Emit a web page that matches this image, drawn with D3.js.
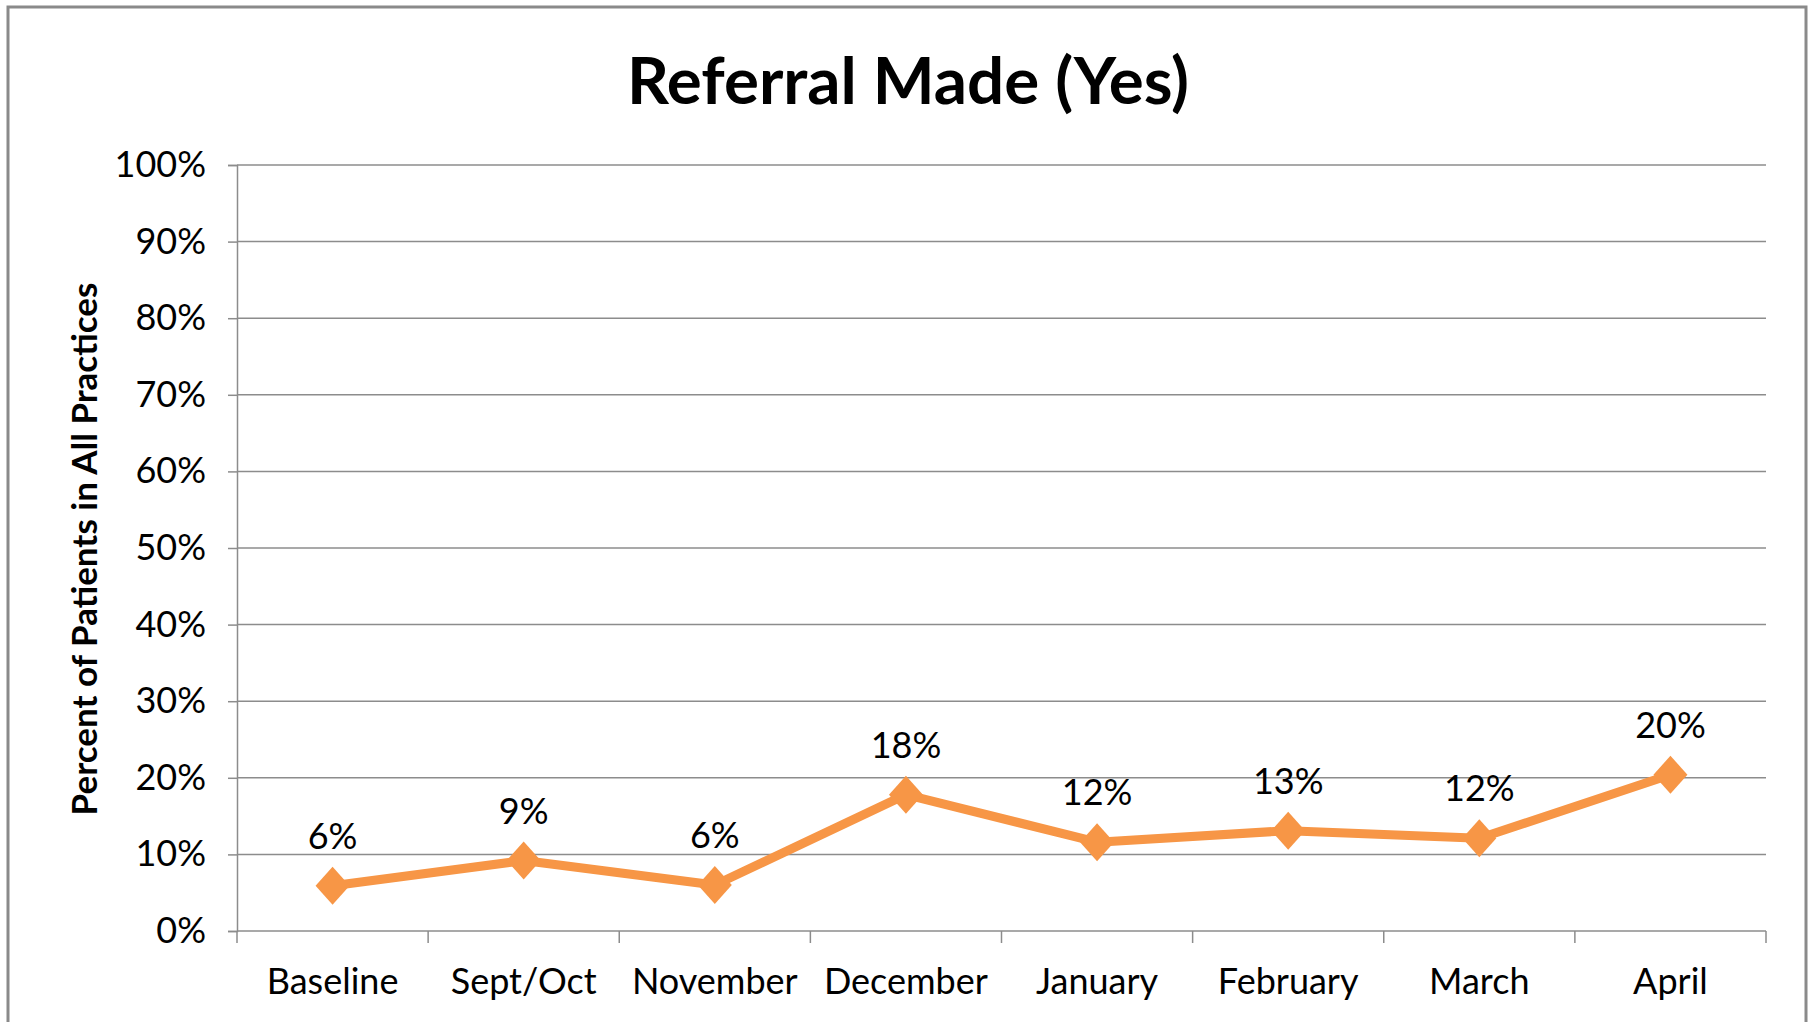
<!DOCTYPE html>
<html>
<head>
<meta charset="utf-8">
<script src="https://cdn.jsdelivr.net/npm/d3@7"></script>
<style>
  html, body { margin: 0; padding: 0; background: #fff; overflow: hidden; }
  text { font-family: Lato, "Open Sans", sans-serif; fill: #000; }
</style>
</head>
<body>
<div id="chart"></div>
<script>
// chart data
const categories = ["Baseline", "Sept/Oct", "November", "December", "January", "February", "March", "April"];
const values = [5.9, 9.2, 6.0, 17.8, 11.6, 13.1, 12.1, 20.4];
const valueLabels = ["6%", "9%", "6%", "18%", "12%", "13%", "12%", "20%"];
const yTicks = [0, 10, 20, 30, 40, 50, 60, 70, 80, 90, 100];

const W = 1812, H = 1022;
const margin = { top: 165, right: 46, bottom: 91, left: 237 };
const width = W - margin.left - margin.right;
const height = H - margin.top - margin.bottom;

const lineColor = "#f79646";
const gridColor = "#8c8c8c";

const svg = d3.select("#chart")
  .append("svg")
  .attr("width", W)
  .attr("height", H);

// outer frame (bottom edge runs off the picture)
svg.append("rect")
  .attr("x", 8)
  .attr("y", 7)
  .attr("width", 1798)
  .attr("height", H + 20)
  .attr("fill", "#fff")
  .attr("stroke", "#8a8a8a")
  .attr("stroke-width", 3);

svg.append("text")
  .attr("x", 908)
  .attr("y", 78)
  .attr("text-anchor", "middle")
  .attr("dominant-baseline", "central")
  .style("font-size", "65.5px")
  .style("font-weight", "bold")
  .text("Referral Made (Yes)");

const g = svg.append("g")
  .attr("transform", `translate(${margin.left},${margin.top})`);

const x = d3.scaleBand().domain(categories).range([0, width]);
const y = d3.scaleLinear().domain([0, 100]).range([height, 0]);

// y axis with ticks poking left of the axis
const yAxis = g.append("g")
  .call(d3.axisLeft(y)
    .tickValues(yTicks)
    .tickSize(9)
    .tickPadding(22)
    .tickFormat(function(d) { return d + "%"; }));
yAxis.select(".domain").attr("stroke", gridColor).attr("stroke-width", 1.5);
yAxis.selectAll(".tick line").attr("stroke", gridColor).attr("stroke-width", 1.5);
yAxis.selectAll(".tick text")
  .style("font-size", "36px")
  .attr("fill", "#000");

// horizontal gridlines
g.append("g")
  .selectAll("line")
  .data(yTicks.filter(function(d) { return d > 0; }))
  .join("line")
  .attr("x1", 0)
  .attr("x2", width)
  .attr("y1", function(d) { return y(d); })
  .attr("y2", function(d) { return y(d); })
  .attr("stroke", gridColor)
  .attr("stroke-width", 1.5);

// x axis: baseline with ticks at the band edges
const xAxis = g.append("g")
  .attr("transform", `translate(0,${height})`);
xAxis.append("line")
  .attr("x1", 0).attr("x2", width)
  .attr("stroke", gridColor).attr("stroke-width", 1.5);
xAxis.selectAll("line.edge")
  .data(categories.concat(["end"]))
  .join("line")
  .attr("class", "edge")
  .attr("x1", function(d, i) { return i * x.bandwidth(); })
  .attr("x2", function(d, i) { return i * x.bandwidth(); })
  .attr("y1", 0).attr("y2", 12)
  .attr("stroke", gridColor).attr("stroke-width", 1.5);
xAxis.selectAll("text")
  .data(categories)
  .join("text")
  .attr("x", function(d) { return x(d) + x.bandwidth() / 2; })
  .attr("y", 49)
  .attr("text-anchor", "middle")
  .attr("dominant-baseline", "central")
  .style("font-size", "36px")
  .text(function(d) { return d; });

// y axis title
svg.append("text")
  .attr("transform", "translate(83,549) rotate(-90)")
  .attr("text-anchor", "middle")
  .attr("dominant-baseline", "central")
  .style("font-size", "35px")
  .style("font-weight", "bold")
  .text("Percent of Patients in All Practices");

// line + markers
const cx = function(d, i) { return x(categories[i]) + x.bandwidth() / 2; };
const line = d3.line()
  .x(cx)
  .y(function(d) { return y(d); });

g.append("path")
  .datum(values)
  .attr("fill", "none")
  .attr("stroke", lineColor)
  .attr("stroke-width", 9)
  .attr("stroke-linejoin", "round")
  .attr("d", line);

g.selectAll("path.marker")
  .data(values)
  .join("path")
  .attr("class", "marker")
  .attr("transform", function(d, i) { return `translate(${cx(d, i)},${y(d)})`; })
  .attr("d", "M0,-19L17,0L0,19L-17,0Z")
  .attr("fill", lineColor);

g.selectAll("text.value")
  .data(values)
  .join("text")
  .attr("class", "value")
  .attr("x", cx)
  .attr("y", function(d) { return y(d) - 51; })
  .attr("text-anchor", "middle")
  .attr("dominant-baseline", "central")
  .style("font-size", "36px")
  .text(function(d, i) { return valueLabels[i]; });
</script>
</body>
</html>
